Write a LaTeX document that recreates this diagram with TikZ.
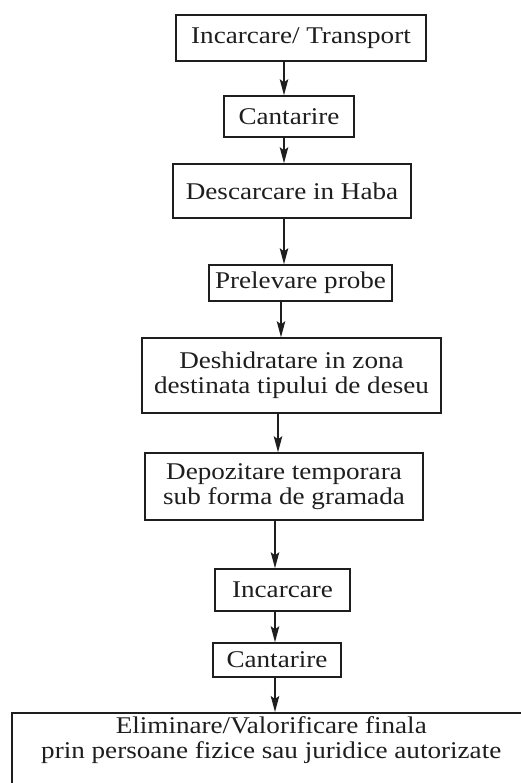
\documentclass[tikz,border=0pt]{standalone}
\usepackage{fontspec}
\setmainfont{Liberation Serif}[FakeStretch=1.13]
\usetikzlibrary{arrows.meta}
\definecolor{ink}{HTML}{1E1E1E}

\begin{document}
\begin{tikzpicture}[x=1pt,y=-1pt,
  box/.style={draw=ink,line width=1.5pt,inner sep=0pt,align=center,text=ink,
    font=\fontsize{24}{25}\selectfont},
  flow/.style={draw=ink,line width=1.2pt,-{Stealth[length=16pt,width=8.5pt,inset=3pt]}}]
\useasboundingbox (0,0) rectangle (520,783);

\node [box,minimum width=250,minimum height=46] (incarcare) at (301,38) {Incarcare/ Transport};
\node [box,minimum width=130,minimum height=41] (cantarire) at (289,116.5) {Cantarire};
\node [box,minimum width=238,minimum height=54] (descarcare) at (292,191) {Descarcare in Haba};
\node [box,minimum width=183,minimum height=36] (prelevare) at (300.5,283) {Prelevare probe};
\node [box,minimum width=299,minimum height=75] (deshidratare) at (291.5,375.5) {Deshidratare in zona\\destinata tipului de deseu};
\node [box,minimum width=278,minimum height=67] (depozitare) at (284,486.5) {Depozitare temporara\\sub forma de gramada};
\node [box,minimum width=135,minimum height=42] (incarcareB) at (282.5,590) {Incarcare};
\node [box,minimum width=128,minimum height=34] (cantarireB) at (277,660) {Cantarire};
\node [box,minimum width=519,minimum height=76,anchor=north west,
  label={[anchor=north,inner sep=4.5pt,align=center,text=ink,font=\fontsize{24}{24.5}\selectfont]north:Eliminare/Valorificare finala\\prin persoane fizice sau juridice autorizate}]
  (eliminare) at (11,712) {};

\foreach \from/\to/\ax in {incarcare/cantarire/284,cantarire/descarcare/284,
  descarcare/prelevare/284,prelevare/deshidratare/281,deshidratare/depozitare/278,
  depozitare/incarcareB/275,incarcareB/cantarireB/275,cantarireB/eliminare/275}
  \draw [flow] (\from.south -| \ax,0) -- (\to.north -| \ax,0);

\end{tikzpicture}
\end{document}
